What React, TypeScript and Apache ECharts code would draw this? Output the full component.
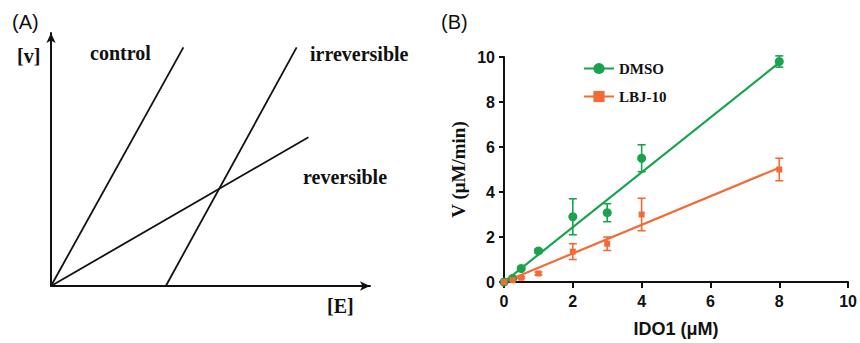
import React, { useEffect, useRef } from "react";
import * as echarts from "echarts";

// Panel B data
const ido1Conc = [0, 0.25, 0.5, 1, 2, 3, 4, 8];
const dmsoV = [0, 0.16, 0.6, 1.38, 2.9, 3.08, 5.5, 9.8];
const dmsoErr = [0, 0, 0.05, 0.08, 0.8, 0.4, 0.6, 0.25];
const lbjV = [0, 0.08, 0.19, 0.38, 1.35, 1.7, 3.0, 5.0];
const lbjErr = [0, 0, 0.04, 0.06, 0.35, 0.3, 0.72, 0.5];
const dmsoFitX = [0, 8];
const dmsoFitY = [0, 9.75];
const lbjFitX = [0, 8];
const lbjFitY = [0, 5.08];
const xTicksB = [0, 2, 4, 6, 8, 10];
const yTicksB = [0, 2, 4, 6, 8, 10];

// Panel A schematic lines (abstract units 0..10)
const controlLine = [[0, 0], [4.15, 9.43]];
const irreversibleLine = [[3.6, 0], [7.7, 9.43]];
const reversibleLine = [[0, 0], [8.07, 5.88]];

const GREEN = "#1aa34e";
const ORANGE = "#f26b36";
const SERIF = "'Liberation Serif', 'Times New Roman', serif";
const SANS = "'Liberation Sans', Arial, sans-serif";

export default function App() {
  const ref = useRef<HTMLDivElement>(null);
  useEffect(() => {
    document.body.style.margin = "0";
    if (!ref.current) return;
    const chart = echarts.init(ref.current, null, { renderer: "svg" });
    const pts = (xs: number[], ys: number[]) => xs.map((x, i) => [x, ys[i]]);
    const errData = (ys: number[], es: number[]) => ido1Conc.map((x, i) => [x, ys[i], es[i]]);
    const errRender = (color: string) => (params: any, api: any) => {
      const x = api.value(0);
      const y = api.value(1);
      const e = api.value(2);
      if (!e) return null;
      const top = api.coord([x, y + e]);
      const bot = api.coord([x, y - e]);
      const hw = 4;
      const style = { stroke: color, lineWidth: 1.6 };
      return {
        type: "group",
        children: [
          { type: "line", shape: { x1: top[0], y1: top[1], x2: bot[0], y2: bot[1] }, style },
          { type: "line", shape: { x1: top[0] - hw, y1: top[1], x2: top[0] + hw, y2: top[1] }, style },
          { type: "line", shape: { x1: bot[0] - hw, y1: bot[1], x2: bot[0] + hw, y2: bot[1] }, style },
        ],
      };
    };
    const boldSerif = (size: number) => ({ fontFamily: SERIF, fontWeight: "bold", fontSize: size, fill: "#111" });
    const axisA = {
      type: "value",
      min: 0,
      max: 10,
      axisLabel: { show: false },
      axisTick: { show: false },
      splitLine: { show: false },
      axisLine: { show: true, symbol: ["none", "arrow"], symbolSize: [7, 10], lineStyle: { color: "#111", width: 2 } },
    };
    const lineA = (data: number[][]) => ({
      type: "line",
      xAxisIndex: 0,
      yAxisIndex: 0,
      data,
      symbol: "none",
      silent: true,
      lineStyle: { color: "#111", width: 1.8 },
      itemStyle: { color: "#111" },
    });
    const option: any = {
      animation: false,
      backgroundColor: "#fff",
      grid: [
        { left: 51, top: 33, width: 319, height: 253 },
        { left: 504, top: 57, width: 345, height: 229 },
      ],
      xAxis: [
        { ...axisA, gridIndex: 0 },
        {
          type: "value",
          gridIndex: 1,
          min: 0,
          max: 10,
          interval: 2,
          splitLine: { show: false },
          axisLine: { lineStyle: { color: "#111", width: 2 } },
          axisTick: { inside: false, length: 6, lineStyle: { color: "#111", width: 2 } },
          axisLabel: { margin: 11, color: "#111", fontFamily: SANS, fontWeight: "bold", fontSize: 16, formatter: (v: number) => (xTicksB.includes(v) ? String(v) : "") },
          name: "IDO1 (μM)",
          nameLocation: "middle",
          nameGap: 38,
          nameTextStyle: { color: "#111", fontFamily: SANS, fontWeight: "bold", fontSize: 18 },
        },
      ],
      yAxis: [
        { ...axisA, gridIndex: 0 },
        {
          type: "value",
          gridIndex: 1,
          min: 0,
          max: 10,
          interval: 2,
          splitLine: { show: false },
          axisLine: { lineStyle: { color: "#111", width: 2 } },
          axisTick: { inside: false, length: 5, lineStyle: { color: "#111", width: 2 } },
          axisLabel: { margin: 9, color: "#111", fontFamily: SANS, fontWeight: "bold", fontSize: 16, formatter: (v: number) => (yTicksB.includes(v) ? String(v) : "") },
          name: "V (μM/min)",
          nameLocation: "middle",
          nameGap: 36,
          nameRotate: 90,
          nameTextStyle: { color: "#111", fontFamily: SERIF, fontWeight: "bold", fontSize: 19 },
        },
      ],
      legend: {
        data: ["DMSO", "LBJ-10"],
        orient: "vertical",
        left: 578,
        top: 56,
        itemWidth: 30,
        itemHeight: 14,
        itemGap: 13,
        textStyle: { color: "#111", fontFamily: SERIF, fontWeight: "bold", fontSize: 15 },
      },
      series: [
        lineA(controlLine),
        lineA(irreversibleLine),
        lineA(reversibleLine),
        {
          name: "DMSO",
          type: "line",
          xAxisIndex: 1,
          yAxisIndex: 1,
          data: pts(dmsoFitX, dmsoFitY),
          symbol: "circle",
          symbolSize: 8,
          showSymbol: false,
          lineStyle: { color: GREEN, width: 2.2 },
          itemStyle: { color: GREEN },
          z: 3,
        },
        {
          name: "LBJ-10",
          type: "line",
          xAxisIndex: 1,
          yAxisIndex: 1,
          data: pts(lbjFitX, lbjFitY),
          symbol: "rect",
          symbolSize: 5,
          showSymbol: false,
          lineStyle: { color: ORANGE, width: 2.2 },
          itemStyle: { color: ORANGE },
          z: 3,
        },
        {
          name: "DMSO",
          type: "scatter",
          xAxisIndex: 1,
          yAxisIndex: 1,
          data: pts(ido1Conc, dmsoV),
          symbol: "circle",
          symbolSize: 9,
          itemStyle: { color: GREEN, opacity: 1 },
          z: 4,
        },
        {
          name: "LBJ-10",
          type: "scatter",
          xAxisIndex: 1,
          yAxisIndex: 1,
          data: pts(ido1Conc, lbjV),
          symbol: "rect",
          symbolSize: 6,
          itemStyle: { color: ORANGE, opacity: 1 },
          z: 4,
        },
        {
          name: "DMSO",
          type: "custom",
          xAxisIndex: 1,
          yAxisIndex: 1,
          data: errData(dmsoV, dmsoErr),
          renderItem: errRender(GREEN),
          encode: { x: 0, y: 1 },
          z: 4,
        },
        {
          name: "LBJ-10",
          type: "custom",
          xAxisIndex: 1,
          yAxisIndex: 1,
          data: errData(lbjV, lbjErr),
          renderItem: errRender(ORANGE),
          encode: { x: 0, y: 1 },
          z: 4,
        },
      ],
      graphic: [
        { type: "text", left: 12, top: 12, style: { text: "(A)", fontFamily: SANS, fontSize: 20, fill: "#111" } },
        { type: "text", left: 441, top: 12, style: { text: "(B)", fontFamily: SANS, fontSize: 20, fill: "#111" } },
        { type: "text", left: 17, top: 46, style: { text: "[v]", ...boldSerif(20) } },
        { type: "text", left: 90, top: 43, style: { text: "control", ...boldSerif(20) } },
        { type: "text", left: 310, top: 44, style: { text: "irreversible", ...boldSerif(20) } },
        { type: "text", left: 303, top: 167, style: { text: "reversible", ...boldSerif(20) } },
        { type: "text", left: 327, top: 296, style: { text: "[E]", ...boldSerif(20) } },
      ],
    };
    chart.setOption(option);
    return () => chart.dispose();
  }, []);
  return <div ref={ref} style={{ width: 860, height: 343 }} />;
}
